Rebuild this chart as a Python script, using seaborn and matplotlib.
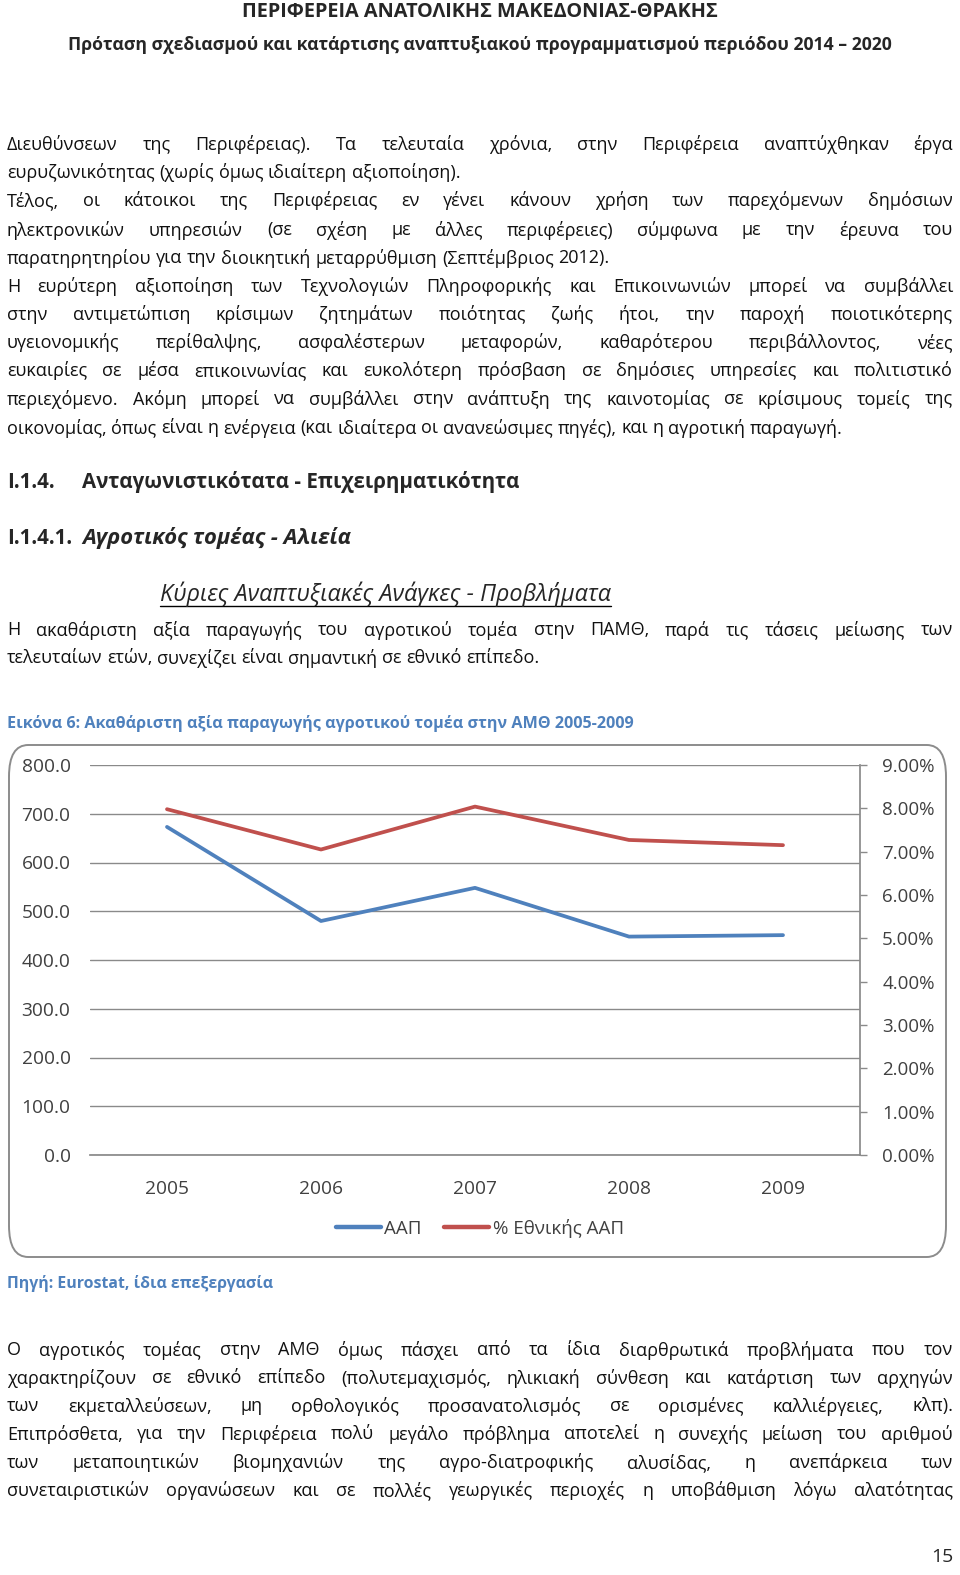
import matplotlib
matplotlib.use("Agg")
import matplotlib.pyplot as plt
import seaborn as sns
import pandas as pd
from matplotlib.patches import FancyBboxPatch
from matplotlib.ticker import FormatStrFormatter
from matplotlib.lines import Line2D

# data
years = ["2005", "2006", "2007", "2008", "2009"]
aap = [673.0, 480.0, 548.0, 448.0, 451.0]
share_pct = [7.98, 7.05, 8.04, 7.27, 7.15]

left_ticks = [0, 100, 200, 300, 400, 500, 600, 700, 800]
right_ticks = [0, 1, 2, 3, 4, 5, 6, 7, 8, 9]

BLUE = "#4F81BD"
RED = "#C0504D"
CAPTION = "#4F81BD"

sns.set_theme(style="white")
plt.rcParams["font.family"] = ["Open Sans", "DejaVu Sans"]

W, H = 960, 1575
fig = plt.figure(figsize=(W / 100, H / 100), dpi=100)
renderer = fig.canvas.get_renderer()


def fy(y):
    return 1 - y / H


def fx(x):
    return x / W


# ---- page text ----
fig.text(0.5, fy(12), "ΠΕΡΙΦΕΡΕΙΑ ΑΝΑΤΟΛΙΚΗΣ ΜΑΚΕΔΟΝΙΑΣ-ΘΡΑΚΗΣ", ha="center", va="center",
         fontsize=14.3, fontweight="bold")
fig.text(0.5, fy(45), "Πρόταση σχεδιασμού και κατάρτισης αναπτυξιακού προγραμματισμού περιόδου 2014 – 2020",
         ha="center", va="center", fontsize=12.7, fontweight="bold")

para_a = [
    ("Διευθύνσεων της Περιφέρειας). Τα τελευταία χρόνια, στην Περιφέρεια αναπτύχθηκαν έργα", 145, False),
    ("ευρυζωνικότητας (χωρίς όμως ιδιαίτερη αξιοποίηση).", 173, True),
    ("Τέλος, οι κάτοικοι της Περιφέρειας εν γένει κάνουν χρήση των παρεχόμενων δημόσιων", 201, False),
    ("ηλεκτρονικών υπηρεσιών (σε σχέση με άλλες περιφέρειες) σύμφωνα με την έρευνα του", 230, False),
    ("παρατηρητηρίου για την διοικητική μεταρρύθμιση (Σεπτέμβριος 2012).", 258, True),
    ("Η ευρύτερη αξιοποίηση των Τεχνολογιών Πληροφορικής και Επικοινωνιών μπορεί να συμβάλλει", 287, False),
    ("στην αντιμετώπιση κρίσιμων ζητημάτων ποιότητας ζωής ήτοι, την παροχή ποιοτικότερης", 315, False),
    ("υγειονομικής περίθαλψης, ασφαλέστερων μεταφορών, καθαρότερου περιβάλλοντος, νέες", 343, False),
    ("ευκαιρίες σε μέσα επικοινωνίας και ευκολότερη πρόσβαση σε δημόσιες υπηρεσίες και πολιτιστικό", 371, False),
    ("περιεχόμενο. Ακόμη μπορεί να συμβάλλει στην ανάπτυξη της καινοτομίας σε κρίσιμους τομείς της", 399, False),
    ("οικονομίας, όπως είναι η ενέργεια (και ιδιαίτερα οι ανανεώσιμες πηγές), και η αγροτική παραγωγή.", 428, True),
    ("Η ακαθάριστη αξία παραγωγής του αγροτικού τομέα στην ΠΑΜΘ, παρά τις τάσεις μείωσης των", 630, False),
    ("τελευταίων ετών, συνεχίζει είναι σημαντική σε εθνικό επίπεδο.", 658, True),
    ("Ο αγροτικός τομέας στην ΑΜΘ όμως πάσχει από τα ίδια διαρθρωτικά προβλήματα που τον", 1350, False),
    ("χαρακτηρίζουν σε εθνικό επίπεδο (πολυτεμαχισμός, ηλικιακή σύνθεση και κατάρτιση των αρχηγών", 1378, False),
    ("των εκμεταλλεύσεων, μη ορθολογικός προσανατολισμός σε ορισμένες καλλιέργειες, κλπ).", 1406, False),
    ("Επιπρόσθετα, για την Περιφέρεια πολύ μεγάλο πρόβλημα αποτελεί η συνεχής μείωση του αριθμού", 1434, False),
    ("των μεταποιητικών βιομηχανιών της αγρο-διατροφικής αλυσίδας, η ανεπάρκεια των", 1463, False),
    ("συνεταιριστικών οργανώσεων και σε πολλές γεωργικές περιοχές η υποβάθμιση λόγω αλατότητας", 1491, False),
]

X0, X1 = 7, 953


def word_widths(words, size):
    out = []
    for w in words:
        t = fig.text(0, 0, w, fontsize=size)
        out.append(t.get_window_extent(renderer).width)
        t.remove()
    return out


# pick one body size so the tightest line still fits
body = 13.0
need = 0
for line, _, _ in para_a:
    words = line.split()
    ws = word_widths(words, body)
    need = max(need, (sum(ws) + 0.18 * body * 1.389 * (len(words) - 1)) / (X1 - X0))
if need > 1:
    body = body / need


def draw_line(line, y, last):
    words = line.split()
    ws = word_widths(words, body)
    if last or len(words) == 1:
        gap = 0.26 * body * 1.389
    else:
        gap = (X1 - X0 - sum(ws)) / (len(words) - 1)
    x = X0
    for w, wd in zip(words, ws):
        fig.text(fx(x), fy(y), w, fontsize=body, va="center", ha="left", color="#111111")
        x += wd + gap


for line, y, last in para_a:
    draw_line(line, y, last)

fig.text(fx(7), fy(482), "Ι.1.4.", fontsize=14.8, fontweight="bold", va="center")
fig.text(fx(82), fy(482), "Ανταγωνιστικότατα - Επιχειρηματικότητα", fontsize=14.8,
         fontweight="bold", va="center")
fig.text(fx(7), fy(538), "Ι.1.4.1.", fontsize=14.8, fontweight="bold", va="center")
fig.text(fx(82), fy(538), "Αγροτικός τομέας - Αλιεία", fontsize=15.8, fontweight="bold",
         fontstyle="italic", va="center")
sub = fig.text(fx(385), fy(594), "Κύριες Αναπτυξιακές Ανάγκες - Προβλήματα", fontsize=16.8,
               fontstyle="italic", ha="center", va="center")
bb = sub.get_window_extent(renderer)
fig.add_artist(Line2D([bb.x0 / W, bb.x1 / W], [fy(606), fy(606)], color="black", lw=1.0))

fig.text(fx(7), fy(723), "Εικόνα 6: Ακαθάριστη αξία παραγωγής αγροτικού τομέα στην ΑΜΘ 2005-2009",
         fontsize=11.6, fontweight="bold", color=CAPTION, va="center")
fig.text(fx(7), fy(1283), "Πηγή: Eurostat, ίδια επεξεργασία", fontsize=11.4, fontweight="bold",
         color=CAPTION, va="center")
fig.text(fx(953), fy(1557), "15", fontsize=14, ha="right", va="center")

# ---- chart frame ----
frame = FancyBboxPatch((fx(9), fy(1257)), (946 - 9) / W, (1257 - 745) / H,
                       boxstyle="round,pad=0,rounding_size=0.02", transform=fig.transFigure,
                       facecolor="white", edgecolor="#8c8c8c", lw=1.4, zorder=0)
fig.add_artist(frame)

df = pd.DataFrame({"year": years, "aap": aap, "share": share_pct})

ax = fig.add_axes([fx(90), fy(1155), (860 - 90) / W, (1155 - 765) / H])
ax.set_facecolor("none")
sns.lineplot(data=df, x="year", y="aap", ax=ax, color=BLUE, lw=2.7, sort=False, label="ΑΑΠ",
             legend=False)
ax.set_ylim(0, 800)
ax.set_xlim(-0.5, 4.5)
ax.set_yticks(left_ticks)
ax.yaxis.set_major_formatter(FormatStrFormatter("%.1f"))
ax.grid(axis="y", color="#8a8a8a", lw=1.0)
ax.grid(axis="x", visible=False)
for s in ["top", "left", "right"]:
    ax.spines[s].set_visible(False)
ax.spines["bottom"].set_color("#8a8a8a")
ax.tick_params(axis="y", length=0, pad=14, labelsize=13.8, labelcolor="#404040")
ax.tick_params(axis="x", length=0, pad=18, labelsize=13.8, labelcolor="#404040")
ax.set_xlabel("")
ax.set_ylabel("")

ax2 = ax.twinx()
sns.lineplot(data=df, x="year", y="share", ax=ax2, color=RED, lw=2.7, sort=False,
             label="% Εθνικής ΑΑΠ", legend=False)
ax2.set_ylim(0, 9)
ax2.set_yticks(right_ticks)
ax2.yaxis.set_major_formatter(FormatStrFormatter("%.2f%%"))
ax2.grid(False)
for s in ["top", "left", "bottom"]:
    ax2.spines[s].set_visible(False)
ax2.spines["right"].set_color("#8a8a8a")
ax2.tick_params(axis="y", length=5, width=1, color="#8a8a8a", pad=11, labelsize=13.5,
                labelcolor="#404040", direction="out")
ax2.set_ylabel("")

handles = [Line2D([], [], color=BLUE, lw=3.2), Line2D([], [], color=RED, lw=3.2)]
fig.legend(handles, ["ΑΑΠ", "% Εθνικής ΑΑΠ"], loc="center", bbox_to_anchor=(0.5, fy(1228)),
           ncol=2, frameon=False, fontsize=13.5, handlelength=2.4, handletextpad=0.2,
           columnspacing=1.2, labelcolor="#404040")

fig.savefig("out.png", dpi=100)
